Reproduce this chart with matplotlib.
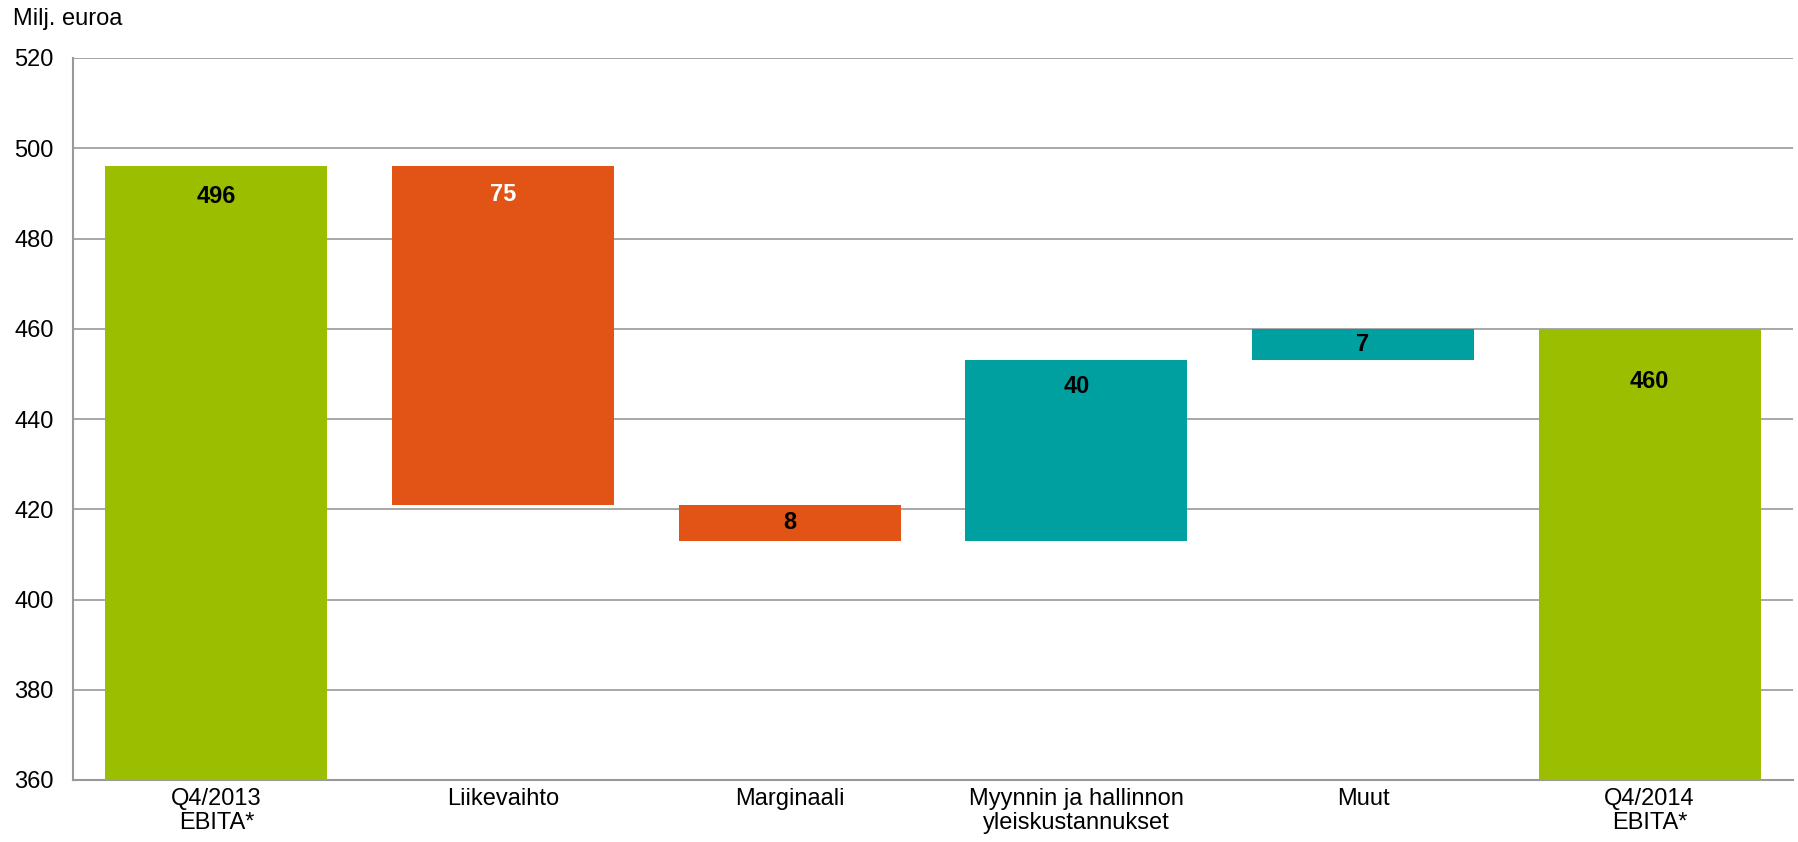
import numpy as np
import matplotlib.pyplot as plt

plt.rcParams['font.family'] = ['Liberation Sans', 'DejaVu Sans']

# Waterfall data (Milj. euroa)
categories = ['Q4/2013\nEBITA*', 'Liikevaihto', 'Marginaali',
              'Myynnin ja hallinnon\nyleiskustannukset', 'Muut', 'Q4/2014\nEBITA*']
start_value = 496
changes = [-75, -8, 40, 7]
end_value = 460
labels = ['496', '75', '8', '40', '7', '460']

green = '#9BBF00'
orange = '#E25316'
teal = '#00A0A0'

# build bottoms / heights from the data
bottoms = [0]
heights = [start_value]
colors = [green]
level = start_value
for c in changes:
    new = level + c
    bottoms.append(min(level, new))
    heights.append(abs(c))
    colors.append(orange if c < 0 else teal)
    level = new
bottoms.append(0)
heights.append(end_value)
colors.append(green)

label_colors = ['black', 'white', 'black', 'black', 'black', 'black']
label_drop = [22, 20, None, 19, None, 38]  # points below bar top, None = centered

fig = plt.figure(figsize=(17.99, 8.42), dpi=100)
ax = fig.add_axes([73 / 1799, 1 - 780 / 842, (1793 - 73) / 1799, (780 - 58) / 842])

x = np.arange(len(categories))
ax.bar(x, heights, bottom=bottoms, width=0.775, color=colors, zorder=3)

for i in range(len(categories)):
    top = bottoms[i] + heights[i]
    if label_drop[i] is None:
        ax.text(x[i], bottoms[i] + heights[i] / 2, labels[i], ha='center', va='center',
                fontsize=17, fontweight='bold', color=label_colors[i], zorder=4)
    else:
        ax.annotate(labels[i], (x[i], top), xytext=(0, -label_drop[i]),
                    textcoords='offset points', ha='center', va='center',
                    fontsize=17, fontweight='bold', color=label_colors[i], zorder=4)

ax.set_ylim(360, 520)
ax.set_xlim(-0.5, len(categories) - 0.5)
ax.set_yticks(np.arange(360, 521, 20))
ax.set_xticks(x)
ax.set_xticklabels(categories, fontsize=17, linespacing=1.1)
ax.tick_params(axis='both', length=0)
ax.tick_params(axis='y', labelsize=17, pad=14)
ax.tick_params(axis='x', pad=6)
ax.grid(axis='y', color='#A0A0A0', linewidth=1.3, zorder=0)
for s in ['top', 'right']:
    ax.spines[s].set_visible(False)
for s in ['left', 'bottom']:
    ax.spines[s].set_color('#999999')
    ax.spines[s].set_linewidth(1.5)

fig.text(13 / 1799, 1 - 19 / 842, 'Milj. euroa', fontsize=17, va='center', ha='left')

fig.savefig('out.png', dpi=100)
